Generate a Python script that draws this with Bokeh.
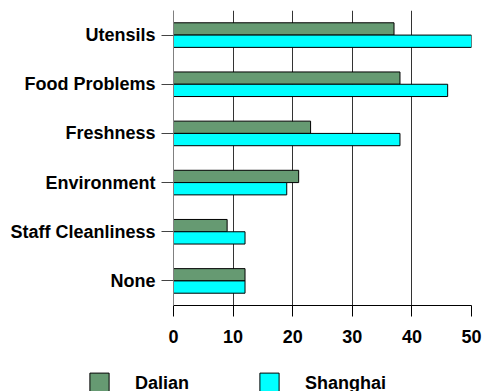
from bokeh.plotting import figure
from bokeh.models import FactorRange, Range1d, FixedTicker, Legend, LegendItem
from bokeh.layouts import column
from bokeh.transform import dodge
from bokeh.embed import file_html
from bokeh.resources import INLINE

# Complaint categories, top to bottom
categories = ["Utensils", "Food Problems", "Freshness", "Environment",
              "Staff Cleanliness", "None"]
dalian = [37, 38, 23, 21, 9, 12]
shanghai = [50, 46, 38, 19, 12, 12]
x_ticks = [0, 10, 20, 30, 40, 50]
series_names = ["Dalian", "Shanghai"]
series_colors = ["#669A72", "#00FFFF"]

source = dict(category=categories, dalian=dalian, shanghai=shanghai)

FONT = "Liberation Sans"

p = figure(
    width=483, height=350,
    y_range=FactorRange(factors=list(reversed(categories))),
    x_range=Range1d(0, 50),
    output_backend="svg", toolbar_location=None,
    min_border_left=173, min_border_right=12,
    min_border_top=10, min_border_bottom=45,
)
p.frame_align = False
p.outline_line_color = None
p.background_fill_color = "white"
p.border_fill_color = "white"

p.hbar(y=dodge("category", 0.125, range=p.y_range), right="dalian",
       left=0, height=0.25, source=source, fill_color=series_colors[0],
       line_color="black", line_width=1)
p.hbar(y=dodge("category", -0.125, range=p.y_range), right="shanghai",
       left=0, height=0.25, source=source, fill_color=series_colors[1],
       line_color="black", line_width=1)

# grid: vertical lines at every 10
p.ygrid.grid_line_color = None
p.xgrid.ticker = FixedTicker(ticks=x_ticks)
p.xgrid.grid_line_color = "#333333"
p.xgrid.grid_line_width = 1

# bottom axis
p.xaxis.ticker = FixedTicker(ticks=x_ticks)
p.xaxis.axis_line_color = "black"
p.xaxis.major_tick_line_color = "black"
p.xaxis.major_tick_out = 11
p.xaxis.major_tick_in = 0
p.xaxis.minor_tick_line_color = None
p.xaxis.major_label_standoff = 13
p.xaxis.major_label_text_font = FONT
p.xaxis.major_label_text_font_style = "bold"
p.xaxis.major_label_text_font_size = "18px"
p.xaxis.major_label_text_color = "black"

# left axis
p.yaxis.axis_line_color = "#808080"
p.yaxis.major_tick_line_color = "#444444"
p.yaxis.major_tick_out = 12
p.yaxis.major_tick_in = 0
p.yaxis.major_label_standoff = 6
p.yaxis.major_label_text_font = FONT
p.yaxis.major_label_text_font_style = "bold"
p.yaxis.major_label_text_font_size = "18px"
p.yaxis.major_label_text_color = "black"

# legend strip underneath the chart; its swatch renderers sit outside the
# visible range so only the legend entries show
leg = figure(
    width=483, height=41,
    x_range=Range1d(0, 1), y_range=Range1d(0, 1),
    x_axis_type=None, y_axis_type=None,
    output_backend="svg", toolbar_location=None,
    min_border=0,
)
leg.frame_align = False
leg.outline_line_color = None
leg.grid.visible = False
swatches = [
    leg.hbar(y=[5], right=[6], left=5, height=1, fill_color=c,
             line_color="black", line_width=1)
    for c in series_colors
]
legend = Legend(
    items=[LegendItem(label=n, renderers=[r]) for n, r in zip(series_names, swatches)],
    orientation="horizontal",
    location=(87, -5),
    border_line_color=None,
    background_fill_alpha=0,
    padding=0, margin=0,
    glyph_width=24, glyph_height=26,
    label_standoff=24, spacing=68,
    label_text_font=FONT,
    label_text_font_style="bold",
    label_text_font_size="18px",
    label_text_color="black",
)
leg.add_layout(legend)

layout = column(p, leg, spacing=0)
open("out.html", "w").write(file_html(layout, INLINE))
